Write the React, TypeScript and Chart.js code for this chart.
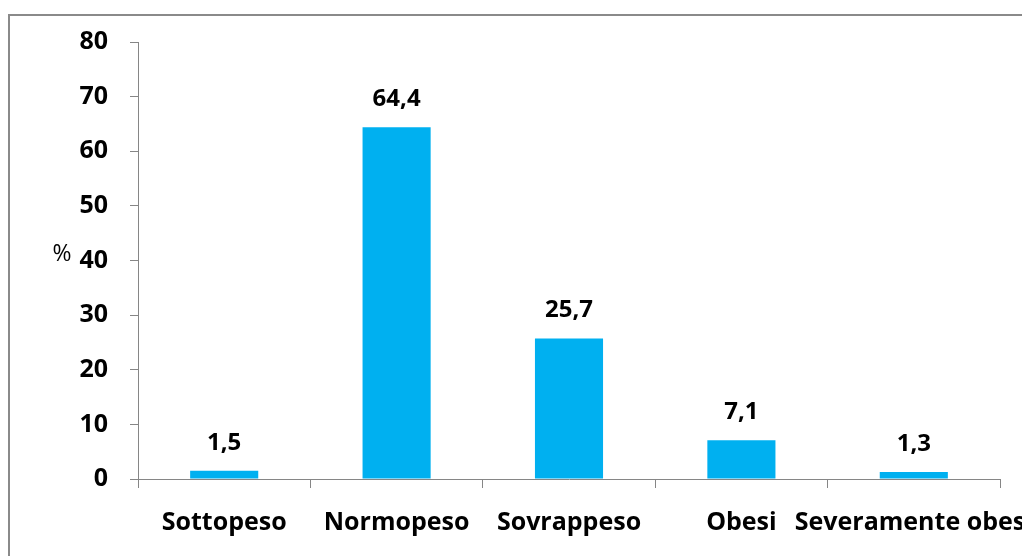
import React, { useEffect, useRef } from "react";
import { Chart, registerables } from "chart.js";

Chart.register(...registerables);

const categories = ["Sottopeso", "Normopeso", "Sovrappeso", "Obesi", "Severamente obesi"];
const values = [1.5, 64.4, 25.7, 7.1, 1.3];
const yTicks = [0, 10, 20, 30, 40, 50, 60, 70, 80];
const yAxisTitle = "%";

const FONT = "'Open Sans'";
const GRAY = "#868686";

const valueLabels = {
  id: "valueLabels",
  afterDatasetsDraw(chart: any) {
    const ctx = chart.ctx;
    const meta = chart.getDatasetMeta(0);
    ctx.save();
    ctx.font = `bold 24px ${FONT}`;
    ctx.fillStyle = "#000";
    ctx.textAlign = "center";
    ctx.textBaseline = "middle";
    meta.data.forEach((bar: any, i: number) => {
      const txt = values[i].toFixed(1).replace(".", ",");
      ctx.fillText(txt, bar.x, bar.y - 28);
    });
    ctx.restore();
  },
};

const axisTitle = {
  id: "axisTitle",
  afterDraw(chart: any) {
    const ctx = chart.ctx;
    ctx.save();
    ctx.font = `23px ${FONT}`;
    ctx.fillStyle = "#000";
    ctx.textAlign = "center";
    ctx.textBaseline = "middle";
    ctx.fillText(yAxisTitle, 62, 254);
    ctx.restore();
  },
};

export default function App() {
  const ref = useRef<HTMLCanvasElement>(null);
  useEffect(() => {
    if (!ref.current) return;
    const chart = new Chart(ref.current, {
      type: "bar",
      data: {
        labels: categories,
        datasets: [
          {
            data: values,
            backgroundColor: "#00b0f0",
            categoryPercentage: 1,
            barPercentage: 0.395,
          },
        ],
      },
      options: {
        animation: false,
        responsive: false,
        layout: { padding: { top: 42, right: 22, left: 0, bottom: 0 } },
        plugins: { legend: { display: false }, tooltip: { enabled: false } },
        scales: {
          x: {
            offset: true,
            grid: {
              offset: true,
              drawOnChartArea: false,
              drawTicks: true,
              tickLength: 9,
              color: GRAY,
            },
            border: { color: GRAY, width: 1 },
            ticks: {
              color: "#000",
              font: { family: FONT, size: 25, weight: "bold" },
              padding: 20,
              maxRotation: 0,
              autoSkip: false,
            },
            afterFit(scale: any) {
              scale.height = 77;
              scale.paddingLeft = 0;
              scale.paddingRight = 0;
            },
          },
          y: {
            min: 0,
            max: 80,
            afterBuildTicks(scale: any) {
              scale.ticks = yTicks.map((v) => ({ value: v }));
            },
            grid: {
              drawOnChartArea: false,
              drawTicks: true,
              tickLength: 8,
              color: GRAY,
            },
            border: { color: GRAY, width: 1 },
            ticks: {
              color: "#000",
              font: { family: FONT, size: 25, weight: "bold" },
              padding: 22,
            },
            afterFit(scale: any) {
              scale.width = 138;
              scale.paddingTop = 0;
              scale.paddingBottom = 0;
            },
          },
        },
      },
      plugins: [valueLabels, axisTitle],
    });
    return () => chart.destroy();
  }, []);
  return (
    <div style={{ position: "fixed", left: 0, top: 0, width: 1022, height: 556, background: "#fff", overflow: "hidden" }}>
      <div
        style={{
          position: "absolute",
          left: 8,
          top: 14,
          width: 2000,
          height: 2000,
          borderLeft: "2px solid #8a8a8a",
          borderTop: "2px solid #8a8a8a",
        }}
      />
      <canvas ref={ref} width={1022} height={556} style={{ position: "absolute", left: 0, top: 0 }} />
    </div>
  );
}
